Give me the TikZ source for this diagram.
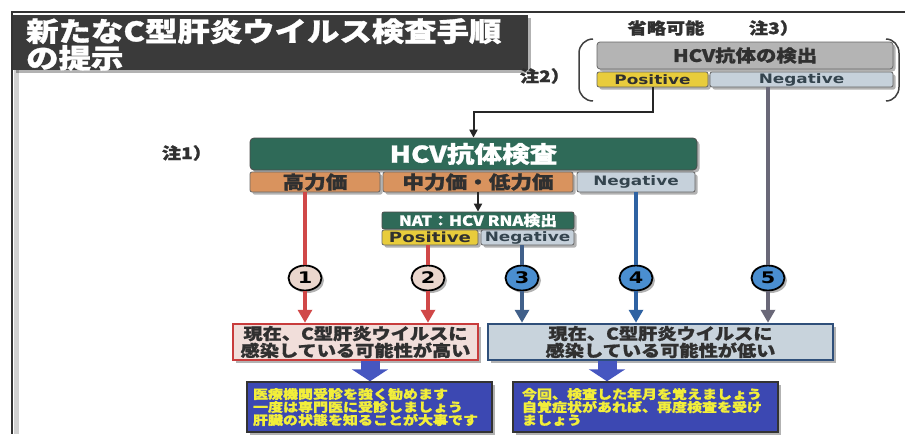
\documentclass[tikz,border=0pt]{standalone}
\usepackage{fontspec}
\newfontfamily\jp[FakeStretch=1.2,FakeBold=1.2]{Noto Sans CJK JP}
\newfontfamily\lt[FakeStretch=1.3]{DejaVu Sans}
\usetikzlibrary{arrows.meta,shapes.geometric,shadows,calc}
\newcommand{\setfs}[2]{\fontsize{#1}{#2}\selectfont}
\definecolor{titlegray}{HTML}{3A3A3A}
\definecolor{hcvgreen}{HTML}{2F6A58}
\definecolor{orangec}{HTML}{D9935E}
\definecolor{negc}{HTML}{C6D1DB}
\definecolor{posc}{HTML}{E8CC3C}
\definecolor{boxgray}{HTML}{B4B4B4}
\definecolor{redc}{HTML}{D04848}
\definecolor{blue3}{HTML}{41608A}
\definecolor{blue4}{HTML}{2E62A2}
\definecolor{gray5}{HTML}{6A6878}
\definecolor{pinkfill}{HTML}{F1DEDA}
\definecolor{pinkedge}{HTML}{C83C3C}
\definecolor{bluefill}{HTML}{C8D3DC}
\definecolor{blueedge}{HTML}{2F4F7A}
\definecolor{actfill}{HTML}{3C48B2}
\definecolor{acttext}{HTML}{F2EE3A}
\definecolor{circpink}{HTML}{EAD6CD}
\definecolor{circblue}{HTML}{4A8ED0}
\definecolor{textdark}{HTML}{303030}
\definecolor{negtext}{HTML}{34444E}
\definecolor{arrowblue}{HTML}{4656C0}
\begin{document}
\begin{tikzpicture}[x=1pt,y=-1pt,
  shad/.style={drop shadow={shadow xshift=2.5pt,shadow yshift=-2.5pt,opacity=0.3,fill=black}},
  box/.style={rectangle,inner sep=0pt,shad},
  lbl/.style={inner sep=0pt,text=textdark,font=\jp\bfseries\setfs{16}{16}},
  jpf/.style={font=\jp\bfseries\setfs{#1}{#1}},
  ltf/.style={font=\lt\bfseries\setfs{#1}{#1}},
  circ/.style={ellipse,draw=black,line width=1.8pt,minimum width=33pt,minimum height=25pt,inner sep=0pt,ltf=16,text=black,shad},
  blk/.style={draw=black!85,line width=2pt,-{Triangle[width=8pt,length=8pt]}},
  vline/.style={line width=4pt},
  vtip/.style={line width=4pt,-{Triangle[width=14pt,length=13pt]}},
  fat/.style={draw=arrowblue,line width=19pt,-{Triangle[width=36pt,length=12pt]}}
]
\path[use as bounding box] (0,0) rectangle (905,434);
\fill[white] (0,0) rectangle (905,434);
% frame
\fill[black!18] (14,70) rectangle (19,434);
\draw[black!80,line width=1.2pt] (905,12) -- (12,12) -- (12,434);
% title
\node[box,fill=titlegray,minimum width=515pt,minimum height=55pt] (title) at (270.5,42.5) {};
\node[anchor=north west,align=left,text=white,inner sep=0pt,font=\jp\bfseries\setfs{27}{24}] (titletext) at (26,18) {新たなC型肝炎ウイルス検査手順\\の提示};
% notes
\node[lbl] (note2) at (545,76) {注2）};
\node[lbl] (omit) at (666,28) {省略可能};
\node[lbl] (note3) at (774,28) {注3）};
\node[lbl] (note1) at (187,153) {注1）};
% brackets
\draw[black!75,line width=1.5pt] (593,39) to[out=180,in=90] (579,53) -- (579,87) to[out=-90,in=180] (593,101);
\draw[black!75,line width=1.5pt] (886,39) to[out=0,in=90] (899,53) -- (899,87) to[out=-90,in=0] (886,101);
% optional antibody detection
\node[box,rounded corners=3pt,fill=boxgray,draw=black!60,line width=0.8pt,minimum width=296pt,minimum height=27pt,jpf=17,text=textdark] (ab) at (745,55.5) {HCV抗体の検出};
\node[box,rounded corners=2pt,fill=posc,draw=black!60,line width=0.8pt,minimum width=111pt,minimum height=15pt,ltf=13,text=textdark] (abpos) at (652.5,79.5) {Positive};
\node[box,rounded corners=2pt,fill=negc,draw=black!60,line width=0.8pt,minimum width=183pt,minimum height=15pt,ltf=13,text=negtext] (abneg) at (801.5,79.5) {Negative};
% HCV antibody test
\node[box,rounded corners=4pt,fill=hcvgreen,draw=black!70,line width=0.8pt,minimum width=447pt,minimum height=32pt,jpf=23,text=white] (hcv) at (473.5,154) {HCV抗体検査};
\node[box,rounded corners=2pt,fill=orangec,draw=black!60,line width=0.8pt,minimum width=130pt,minimum height=20pt,jpf=18,text=textdark] (high) at (315,182) {高力価};
\node[box,rounded corners=2pt,fill=orangec,draw=black!60,line width=0.8pt,minimum width=190pt,minimum height=20pt,jpf=18,text=textdark] (mid) at (478,182) {中力価・低力価};
\node[box,rounded corners=2pt,fill=negc,draw=black!60,line width=0.8pt,minimum width=118pt,minimum height=20pt,ltf=13,text=negtext] (hneg) at (636,182) {Negative};
% NAT
\node[box,rounded corners=2pt,fill=hcvgreen,draw=black!70,line width=0.8pt,minimum width=192pt,minimum height=17pt,jpf=14,text=white] (nat) at (478,220.5) {NAT：HCV RNA検出};
\node[box,rounded corners=2pt,fill=posc,draw=black!60,line width=0.8pt,minimum width=96pt,minimum height=15pt,ltf=14,text=textdark] (npos) at (430,237.5) {Positive};
\node[box,rounded corners=2pt,fill=negc,draw=black!60,line width=0.8pt,minimum width=93pt,minimum height=15pt,ltf=13,text=negtext] (nneg) at (527.5,237.5) {Negative};
% circles
\node[circ,fill=circpink] (c1) at (305,278) {1};
\node[circ,fill=circpink] (c2) at (428,278) {2};
\node[circ,fill=circblue] (c3) at (522,278) {3};
\node[circ,fill=circblue] (c4) at (636,278) {4};
\node[circ,fill=circblue] (c5) at (768,278) {5};
% result boxes
\node[box,fill=pinkfill,draw=pinkedge,line width=2.5pt,minimum width=245pt,minimum height=36pt,align=center,font=\jp\bfseries\setfs{16}{17},text=textdark] (lbox) at (355.5,342) {現在、C型肝炎ウイルスに\\感染している可能性が高い};
\node[box,fill=bluefill,draw=blueedge,line width=2.5pt,minimum width=345pt,minimum height=36pt,align=center,font=\jp\bfseries\setfs{16}{17},text=textdark] (rbox) at (660.5,342) {現在、C型肝炎ウイルスに\\感染している可能性が低い};
% advice boxes
\node[rectangle,shad,fill=actfill,draw=black!80,line width=1.5pt,minimum height=50pt,inner xsep=6pt,inner ysep=0pt,text width=233pt,align=left,font=\jp\bfseries\setfs{12.5}{13},text=acttext] (lact) at (369.5,407) {医療機関受診を強く勧めます\\一度は専門医に受診しましょう\\肝臓の状態を知ることが大事です};
\node[rectangle,shad,fill=actfill,draw=black!80,line width=1.5pt,minimum height=50pt,inner xsep=9pt,inner ysep=0pt,text width=247pt,align=left,font=\jp\bfseries\setfs{12.5}{13},text=acttext] (ract) at (645.5,407) {今回、検査した年月を覚えましょう\\自覚症状があれば、再度検査を受け\\ましょう};
% connectors
\draw[blk] (abpos.south) |- ($(hcv.north)+(0,-26)$) -- (hcv.north);
\draw[blk] (mid.south) -- (nat.north);
\draw[vline,draw=redc] (c1 |- high.south) -- (c1);
\draw[vtip,draw=redc,fill=redc] (c1) -- (c1 |- lbox.north);
\draw[vline,draw=redc] (c2 |- npos.south) -- (c2);
\draw[vtip,draw=redc,fill=redc] (c2) -- (c2 |- lbox.north);
\draw[vline,draw=blue3] (c3 |- nneg.south) -- (c3);
\draw[vtip,draw=blue3,fill=blue3] (c3) -- (c3 |- rbox.north);
\draw[vline,draw=blue4] (c4 |- hneg.south) -- (c4);
\draw[vtip,draw=blue4,fill=blue4] (c4) -- (c4 |- rbox.north);
\draw[vline,draw=gray5] (c5 |- abneg.south) -- (c5);
\draw[vtip,draw=gray5,fill=gray5] (c5) -- (c5 |- rbox.north);
\coordinate (la) at (370,371);
\coordinate (ra) at (607,371);
\draw[fat] (lbox.south -| la) -- (lact.north -| la);
\draw[fat] (rbox.south -| ra) -- (ract.north -| ra);
\end{tikzpicture}
\end{document}
